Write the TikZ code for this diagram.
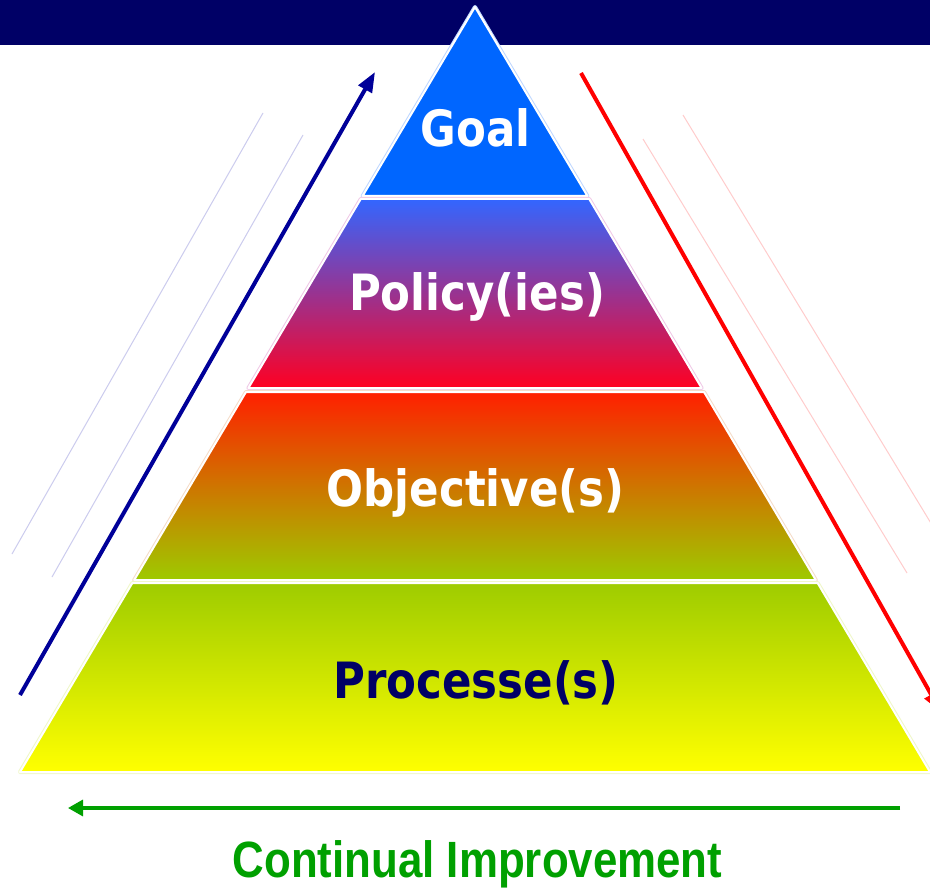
\documentclass[tikz,border=0pt]{standalone}
\usepackage{fontspec}
\setmainfont{DejaVu Sans}[FakeStretch=0.87]
\newfontfamily\cifont{Liberation Sans}[FakeStretch=0.86]
\usetikzlibrary{arrows.meta}
\definecolor{navy}{RGB}{0,0,102}
\definecolor{arrowblue}{RGB}{0,0,153}
\definecolor{goalblue}{RGB}{0,102,255}
\definecolor{polA}{RGB}{51,102,255}
\definecolor{polB}{RGB}{205,75,185}
\definecolor{polC}{RGB}{255,0,34}
\definecolor{objA}{RGB}{255,32,0}
\definecolor{objB}{RGB}{210,150,0}
\definecolor{objC}{RGB}{158,202,0}
\definecolor{proA}{RGB}{158,204,0}
\definecolor{proB}{RGB}{255,255,0}
\definecolor{cigreen}{RGB}{0,160,0}
\definecolor{faintblue}{RGB}{204,204,238}
\definecolor{faintred}{RGB}{255,204,204}
\tikzset{
  layeredge/.style={line width=4pt, line join=round},
  layerwhite/.style={draw=white, line width=2pt, line join=round},
  labeltext/.style={font=\fontsize{50}{60}\selectfont\bfseries, anchor=base, inner sep=0pt},
  faint/.style={line width=1pt},
}
\begin{document}
\begin{tikzpicture}[x=1pt,y=-1pt]
\useasboundingbox (0,0) rectangle (930,888);
\clip (0,0) rectangle (930,888);
\fill[white] (0,0) rectangle (930,888);
% top bar
\fill[navy] (0,0) rectangle (930,45);
% faint lines
\draw[faint, faintblue] (263,113) -- (12,554);
\draw[faint, faintblue] (303,135) -- (52,577);
\draw[faint, faintred] (643,139) -- (907,573);
\draw[faint, faintred] (683,115) -- (960,571);
% Goal layer
\draw[layeredge, draw={rgb,255:red,190;green,215;blue,255}] (475,7) -- (587.4,196) -- (362.6,196) -- cycle;
\fill[goalblue] (475,7) -- (587.4,196) -- (362.6,196) -- cycle;
\draw[layerwhite] (475,7) -- (587.4,196) -- (362.6,196) -- cycle;
% Policy layer
\draw[layeredge, draw={rgb,255:red,240;green,200;blue,230}] (360.8,199) -- (589.2,199) -- (701.6,388) -- (248.4,388) -- cycle;
\shade[top color=polA, middle color=polB, bottom color=polC] (360.8,199) -- (589.2,199) -- (701.6,388) -- (248.4,388) -- cycle;
\draw[layerwhite] (360.8,199) -- (589.2,199) -- (701.6,388) -- (248.4,388) -- cycle;
% Objective layer
\draw[layeredge, draw={rgb,255:red,245;green,220;blue,200}] (246,392) -- (704,392) -- (815.8,580) -- (134.2,580) -- cycle;
\shade[top color=objA, middle color=objB, bottom color=objC] (246,392) -- (704,392) -- (815.8,580) -- (134.2,580) -- cycle;
\draw[layerwhite] (246,392) -- (704,392) -- (815.8,580) -- (134.2,580) -- cycle;
% Processes layer
\draw[layeredge, draw={rgb,255:red,240;green,248;blue,200}] (132.4,583) -- (817.6,583) -- (930,772) -- (20,772) -- cycle;
\shade[top color=proA, bottom color=proB] (132.4,583) -- (817.6,583) -- (930,772) -- (20,772) -- cycle;
\draw[layerwhite] (132.4,583) -- (817.6,583) -- (930,772) -- (20,772) -- cycle;
% labels
\node[labeltext, text=white] (goal) at (475.5,147) {Goal};
\node[labeltext, text=white] (policy) at (477,310) {Policy(ies)};
\node[labeltext, text=white] (objective) at (475.5,506) {Objective(s)};
\node[labeltext, text=navy] (processes) at (476,698) {Processe(s)};
\node[font=\cifont\fontsize{51}{60}\selectfont\bfseries, text=cigreen, anchor=base, inner sep=0pt] (ci) at (477.5,877) {Continual Improvement};
% arrows
\coordinate (bs) at (20,695);
\coordinate (be) at (375,72);
\coordinate (rs) at (581,73);
\coordinate (re) at (941,712);
\coordinate (gs) at (900,808);
\coordinate (ge) at (68,808);
\draw[arrowblue, line width=4pt, -{Triangle[length=20pt,width=15pt]}] (bs) -- (be);
\draw[red, line width=4pt, -{Triangle[length=20pt,width=15pt]}] (rs) -- (re);
\draw[cigreen, line width=3.3pt, -{Triangle[length=15pt,width=16pt]}] (gs) -- (ge);
\end{tikzpicture}
\end{document}
